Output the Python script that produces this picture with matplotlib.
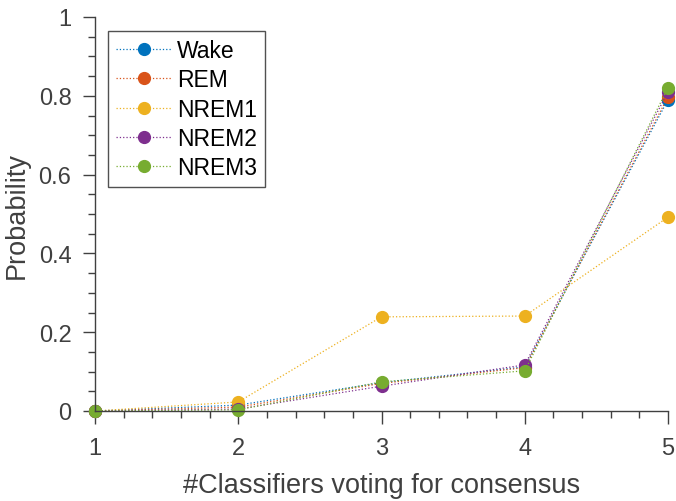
import matplotlib.pyplot as plt
from matplotlib.ticker import MultipleLocator

plt.rcParams['font.family'] = ['Liberation Sans', 'DejaVu Sans']

n_classifiers = [1, 2, 3, 4, 5]
stages = ['Wake', 'REM', 'NREM1', 'NREM2', 'NREM3']
colors = ['#0072BD', '#D95319', '#EDB120', '#7E2F8E', '#77AC30']

wake = [0.0, 0.015, 0.072, 0.112, 0.790]
rem = [0.0, 0.010, 0.070, 0.110, 0.797]
nrem1 = [0.0, 0.023, 0.239, 0.241, 0.492]
nrem2 = [0.0, 0.005, 0.063, 0.117, 0.810]
nrem3 = [0.0, 0.003, 0.074, 0.102, 0.820]
series = [wake, rem, nrem1, nrem2, nrem3]

fig = plt.figure(figsize=(6.76, 5.02), dpi=100)
ax = fig.add_axes([95 / 676, 1 - 412 / 502, (668 - 95) / 676, (412 - 18) / 502])

for name, vals, c in zip(stages, series, colors):
    ax.plot(n_classifiers, vals, ':', color=c, lw=0.9, marker='o',
            markersize=8.5, label=name, clip_on=False)


def fmt_prob(v, pos):
    v = round(v, 2)
    if v in (0, 1):
        return str(int(v))
    return f'{v:.1f}'


ax.set_xlim(1, 5)
ax.set_ylim(0, 1)
ax.xaxis.set_major_locator(MultipleLocator(1))
ax.xaxis.set_minor_locator(MultipleLocator(0.2))
ax.yaxis.set_major_locator(MultipleLocator(0.2))
ax.yaxis.set_minor_locator(MultipleLocator(0.05))
ax.yaxis.set_major_formatter(fmt_prob)

axis_grey = '#404040'
for side in ['top', 'right']:
    ax.spines[side].set_visible(False)
for side in ['left', 'bottom']:
    ax.spines[side].set_color(axis_grey)
    ax.spines[side].set_linewidth(1.0)
ax.tick_params(which='major', direction='out', length=9, width=1.0,
               colors=axis_grey, labelsize=17)
ax.tick_params(which='minor', direction='out', length=5, width=1.0, colors=axis_grey)
ax.tick_params(axis='x', which='major', pad=10)
ax.tick_params(axis='y', which='major', pad=8)

ax.set_xlabel('#Classifiers voting for consensus', fontsize=19.5, color=axis_grey, labelpad=9)
ax.set_ylabel('Probability', fontsize=19.5, color=axis_grey, labelpad=6)

leg = ax.legend(loc='upper left', bbox_to_anchor=(0.023, 0.965), fontsize=16.5,
                frameon=True, fancybox=False, handlelength=2.4, handletextpad=0.25,
                borderpad=0.35, labelspacing=0.28, borderaxespad=0)
leg.get_frame().set_edgecolor('#262626')
leg.get_frame().set_linewidth(1.0)

fig.savefig('out.png', dpi=100)
